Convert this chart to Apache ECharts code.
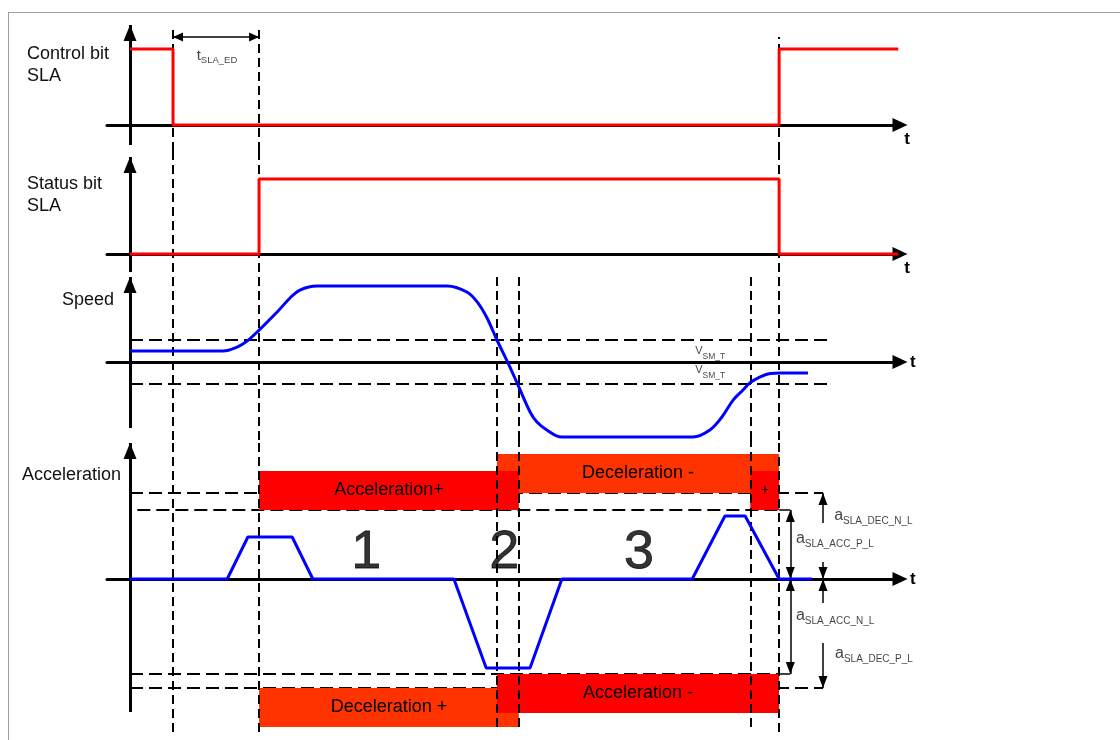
<!DOCTYPE html>
<html><head><meta charset="utf-8">
<script src="https://cdn.jsdelivr.net/npm/echarts@6/dist/echarts.min.js"></script>
<style>html,body{margin:0;padding:0;background:#fff}#c{width:1120px;height:740px}</style>
</head><body><div id="c"></div>
<script>
// ---------- data (time in arbitrary units, values in arbitrary units) ----------
const tCtrlOff = 10, tStatusOn = 30, tCross1 = 85.3, tCross2 = 90.4, tCross3 = 144.2, tCtrlOn = 150.9, tEnd = 178.6;
const controlBit = [[0,1],[tCtrlOff,1],[tCtrlOff,0],[tCtrlOn,0],[tCtrlOn,1],[tEnd,1]];
const statusBit  = [[0,0],[tStatusOn,0],[tStatusOn,1],[tCtrlOn,1],[tCtrlOn,0],[tEnd,0]];
const speedCurve = [[0,0.5],[21.6,0.5],[24.9,0.68],[27.2,0.95],[30.0,1.45],[34.2,2.27],[37.2,2.91],[39.5,3.27],[43.5,3.45],
  [73.7,3.45],[78.3,3.18],[80.7,2.73],[83.0,2.0],[85.3,1.0],[87.9,-0.05],[90.2,-1.05],[93.0,-2.27],[94.6,-2.73],[96.9,-3.09],[100.3,-3.41],
  [130.9,-3.41],[134.8,-3.09],[137.6,-2.5],[140.2,-1.73],[142.5,-1.27],[144.1,-0.95],[146.5,-0.68],[148.8,-0.52],[151.1,-0.5],[157.6,-0.5]];
const accelCurve = [[0,0],[22.6,0],[27.4,4.2],[37.7,4.2],[42.5,0],[75.3,0],[82.8,-8.9],[93.0,-8.9],[100.4,0],
  [130.7,0],[138.3,6.3],[143.0,6.3],[150.9,0],[158.6,0]];
const vSmT = 1;
const aAccPL = 6.9, aDecNL = 8.6, aAccNL = -9.5, aDecPL = -10.9;
const bandHeight = 3.9;
const zoneNames = ['1','2','3'];
const zoneTimes = [54.9, 87.0, 118.3];
const panelLabels = ['Control bit\nSLA','Status bit\nSLA','Speed','Acceleration'];

// ---------- layout ----------
const X_MIN = -5.35, X_MAX = 179;
const panels = [
  {top:25,  height:126, min:-0.342, max:1.316, axisLo:-0.263, axisHi:1.316, labelY:43},
  {top:151, height:121, min:-0.24,  max:1.373, axisLo:-0.24,  axisHi:1.293, labelY:173},
  {top:272, height:168, min:-3.545, max:4.09,  axisLo:-3.0,   axisHi:3.86,  labelY:289},
  {top:440, height:295, min:-15.6,  max:13.9,  axisLo:-13.3,  axisHi:13.6,  labelY:464}
];
const FONT = "'Liberation Sans', Arial, Helvetica, sans-serif";
const RED = '#ff0000', ORANGE = '#ff3300', BLUE = '#0000ff';

const grids = panels.map(p => ({left:107, width:793, top:p.top, height:p.height}));
const xAxes = panels.map((p,i) => ({
  gridIndex:i, type:'value', min:X_MIN, max:X_MAX,
  axisLine:{show:true, onZero:true, symbol:['none','triangle'], symbolSize:[14,15], lineStyle:{color:'#000', width:3}},
  axisTick:{show:false}, axisLabel:{show:false}, splitLine:{show:false},
  name:'t', nameLocation:'end',
  nameGap: i < 2 ? 7 : 10,
  nameTextStyle: i < 2
    ? {fontSize:17, fontWeight:'bold', color:'#000', align:'center', verticalAlign:'top', padding:[6,0,0,0], fontFamily:FONT}
    : {fontSize:17, fontWeight:'bold', color:'#000', fontFamily:FONT}
}));
const yAxes = panels.map((p,i) => ({
  gridIndex:i, type:'value', min:p.min, max:p.max,
  axisLine:{show:false}, axisTick:{show:false}, axisLabel:{show:false}, splitLine:{show:false}
}));

function marks(g, z, lineStyle, symbol, size, pairs) {
  const sz = Array.isArray(size) ? size : [1,1];
  return {
    type:'line', xAxisIndex:g, yAxisIndex:g, data:[], silent:true, z:z,
    markLine:{
      silent:true, z:z, animation:false,
      symbol: symbol,
      symbolSize: sz,
      symbolOffset:[[0, sz[1]/2],[0, sz[1]/2]],
      itemStyle:{color:'#000'},
      label:{show:false}, emphasis:{disabled:true},
      lineStyle: lineStyle,
      data: pairs.map(pr => [{coord:pr[0]},{coord:pr[1]}])
    }
  };
}
const vDash = {color:'#000', width:2, type:[9,5]};
const hDash = {color:'#000', width:2, type:[13,6]};
const thin = {color:'#000', width:1.5, type:'solid'};
const axisStyle = {color:'#000', width:3, type:'solid'};

const series = [];
// y axes with arrows
panels.forEach((p,i) => {
  series.push(marks(i, 1, axisStyle, ['none','triangle'], [13,16], [[[0,p.axisLo],[0,p.axisHi]]]));
});
// vertical dashed event lines (per panel)
const P = panels;
series.push(marks(0, 3, vDash, ['none','none'], null, [
  [[tCtrlOff,P[0].min],[tCtrlOff,P[0].max]], [[tStatusOn,P[0].min],[tStatusOn,P[0].max]], [[tCtrlOn,P[0].min],[tCtrlOn,1.158]]]));
series.push(marks(1, 3, vDash, ['none','none'], null, [
  [[tCtrlOff,P[1].min],[tCtrlOff,P[1].max]], [[tStatusOn,P[1].min],[tStatusOn,P[1].max]], [[tCtrlOn,P[1].min],[tCtrlOn,P[1].max]]]));
series.push(marks(2, 3, vDash, ['none','none'], null, [
  [[tCtrlOff,P[2].min],[tCtrlOff,P[2].max]], [[tStatusOn,P[2].min],[tStatusOn,P[2].max]], [[tCtrlOn,P[2].min],[tCtrlOn,P[2].max]],
  [[tCross1,P[2].min],[tCross1,P[2].max]], [[tCross2,P[2].min],[tCross2,P[2].max]], [[tCross3,P[2].min],[tCross3,3.86]]]));
series.push(marks(3, 3, vDash, ['none','none'], null, [
  [[tCtrlOff,-15.3],[tCtrlOff,P[3].max]], [[tStatusOn,-15.3],[tStatusOn,P[3].max]], [[tCtrlOn,-15.3],[tCtrlOn,P[3].max]],
  [[tCross1,-14.8],[tCross1,P[3].max]], [[tCross2,-14.8],[tCross2,P[3].max]], [[tCross3,-14.8],[tCross3,P[3].max]]]));
// horizontal dashed thresholds
series.push(marks(2, 0, hDash, ['none','none'], null, [[[0,vSmT],[162.5,vSmT]], [[0,-vSmT],[162.5,-vSmT]]]));
series.push(marks(3, 0, hDash, ['none','none'], null, [
  [[0,aDecNL],[161.1,aDecNL]], [[1.7,aAccPL],[150.9,aAccPL]], [[0,aAccNL],[150.9,aAccNL]], [[0,aDecPL],[161.1,aDecPL]]]));
series.push(marks(3, 0, thin, ['none','none'], null, [[[150.9,aAccPL],[153.5,aAccPL]], [[150.9,aAccNL],[153.5,aAccNL]]]));
// dimension arrows
series.push(marks(0, 3, thin, ['triangle','triangle'], [9,10], [[[tCtrlOff,1.158],[tStatusOn,1.158]]]));
series.push(marks(3, 3, thin, ['triangle','triangle'], [9,12], [[[153.5,aAccPL],[153.5,0]], [[153.5,0],[153.5,aAccNL]]]));
series.push(marks(3, 3, thin, ['none','triangle'], [9,12], [
  [[161.1,5.6],[161.1,aDecNL]], [[161.1,1.7],[161.1,0]], [[161.1,-2.4],[161.1,0]], [[161.1,-6.4],[161.1,aDecPL]]]));

// boxes
function boxes(z, color, list) {
  return {
    type:'line', xAxisIndex:3, yAxisIndex:3, data:[], silent:true, z:z,
    markArea:{
      silent:true, z:z,
      itemStyle:{color:color, opacity:1},
      label:{show:true, position:'inside', color:'#000', fontSize:18, fontFamily:FONT},
      data: list.map(b => [{name:b.name, xAxis:b.x0, yAxis:b.y0, label:b.label}, {xAxis:b.x1, yAxis:b.y1}])
    }
  };
}
series.push(boxes(1, ORANGE, [
  {name:'Deceleration -', x0:tCross1, x1:tCtrlOn, y0:aDecNL, y1:aDecNL+bandHeight},
  {name:'Deceleration +', x0:tStatusOn, x1:tCross2, y0:aDecPL, y1:aDecPL-bandHeight}
]));
series.push(boxes(2, RED, [
  {name:'Acceleration+', x0:tStatusOn, x1:tCross2, y0:aAccPL, y1:aAccPL+bandHeight},
  {name:'+', x0:tCross3, x1:tCtrlOn, y0:aAccPL, y1:aAccPL+bandHeight, label:{fontSize:14, color:'#000'}},
  {name:'Acceleration -', x0:tCross1, x1:tCtrlOn, y0:aAccNL, y1:aAccNL-bandHeight}
]));

// signals
series.push({type:'line', xAxisIndex:0, yAxisIndex:0, data:controlBit, symbol:'none', silent:true, z:4, lineStyle:{color:RED, width:3}});
series.push({type:'line', xAxisIndex:1, yAxisIndex:1, data:statusBit, symbol:'none', silent:true, z:4, lineStyle:{color:RED, width:3}});
series.push({type:'line', xAxisIndex:2, yAxisIndex:2, data:speedCurve, symbol:'none', silent:true, z:4, smooth:0.35, lineStyle:{color:BLUE, width:3}});
series.push({type:'line', xAxisIndex:3, yAxisIndex:3, data:accelCurve, symbol:'none', silent:true, z:4, lineStyle:{color:BLUE, width:3}});

// text annotations
function sub(main, s, mainSize, subSize, pad) {
  return {
    formatter: '{m|' + main + '}{s|' + s + '}',
    rich:{
      m:{fontSize:mainSize, color:'#111', verticalAlign:'top', fontFamily:FONT},
      s:{fontSize:subSize, color:'#111', verticalAlign:'top', padding:[pad,0,0,0], fontFamily:FONT}
    }
  };
}
function annot(g, pts) {
  return {
    type:'scatter', xAxisIndex:g, yAxisIndex:g, symbolSize:0, silent:true, z:6,
    itemStyle:{color:'#000'},
    data: pts.map(p => ({value:[p.t, p.v], label:Object.assign({show:true, position:p.pos||'right', distance:0}, p.label)}))
  };
}
series.push(annot(0, [{t:15.5, v:0.9, label:sub('t','SLA_ED',15,9.5,7)}]));
series.push(annot(2, [
  {t:131.4, v:0.39, label:sub('V','SM_T',11,8.5,6)},
  {t:131.4, v:-0.47, label:sub('V','SM_T',11,8.5,6)}
]));
series.push(annot(3, [
  {t:163.7, v:6.2,  label:sub('a','SLA_DEC_N_L',16,10,9)},
  {t:154.8, v:3.9,  label:sub('a','SLA_ACC_P_L',16,10,9)},
  {t:154.8, v:-3.8, label:sub('a','SLA_ACC_N_L',16,10,9)},
  {t:163.9, v:-7.6, label:sub('a','SLA_DEC_P_L',16,10,9)}
].concat(zoneNames.map((n,i) => ({t:zoneTimes[i], v:2.6, pos:'inside',
  label:{formatter:n, fontSize:54, color:'#000', textBorderColor:'#000', textBorderWidth:0.8, fontFamily:FONT}})))));

const graphic = [
  {type:'line', shape:{x1:8, y1:12.5, x2:1120, y2:12.5}, style:{stroke:'#a0a0a0', lineWidth:1}, silent:true},
  {type:'line', shape:{x1:8.5, y1:12, x2:8.5, y2:740}, style:{stroke:'#a0a0a0', lineWidth:1}, silent:true}
].concat(panelLabels.map((t,i) => ({
  type:'text', x: i===3 ? 22 : (i===2 ? 62 : 27), y: panels[i].labelY, silent:true,
  style:{text:t, fontSize:18, fontFamily:FONT, fill:'#111', lineHeight:22, verticalAlign:'top'}
})));

const chart = echarts.init(document.getElementById('c'), null, {width:1120, height:740});
chart.setOption({
  animation:false,
  backgroundColor:'#fff',
  textStyle:{fontFamily:FONT},
  grid:grids, xAxis:xAxes, yAxis:yAxes, series:series, graphic:graphic
});
</script></body></html>
